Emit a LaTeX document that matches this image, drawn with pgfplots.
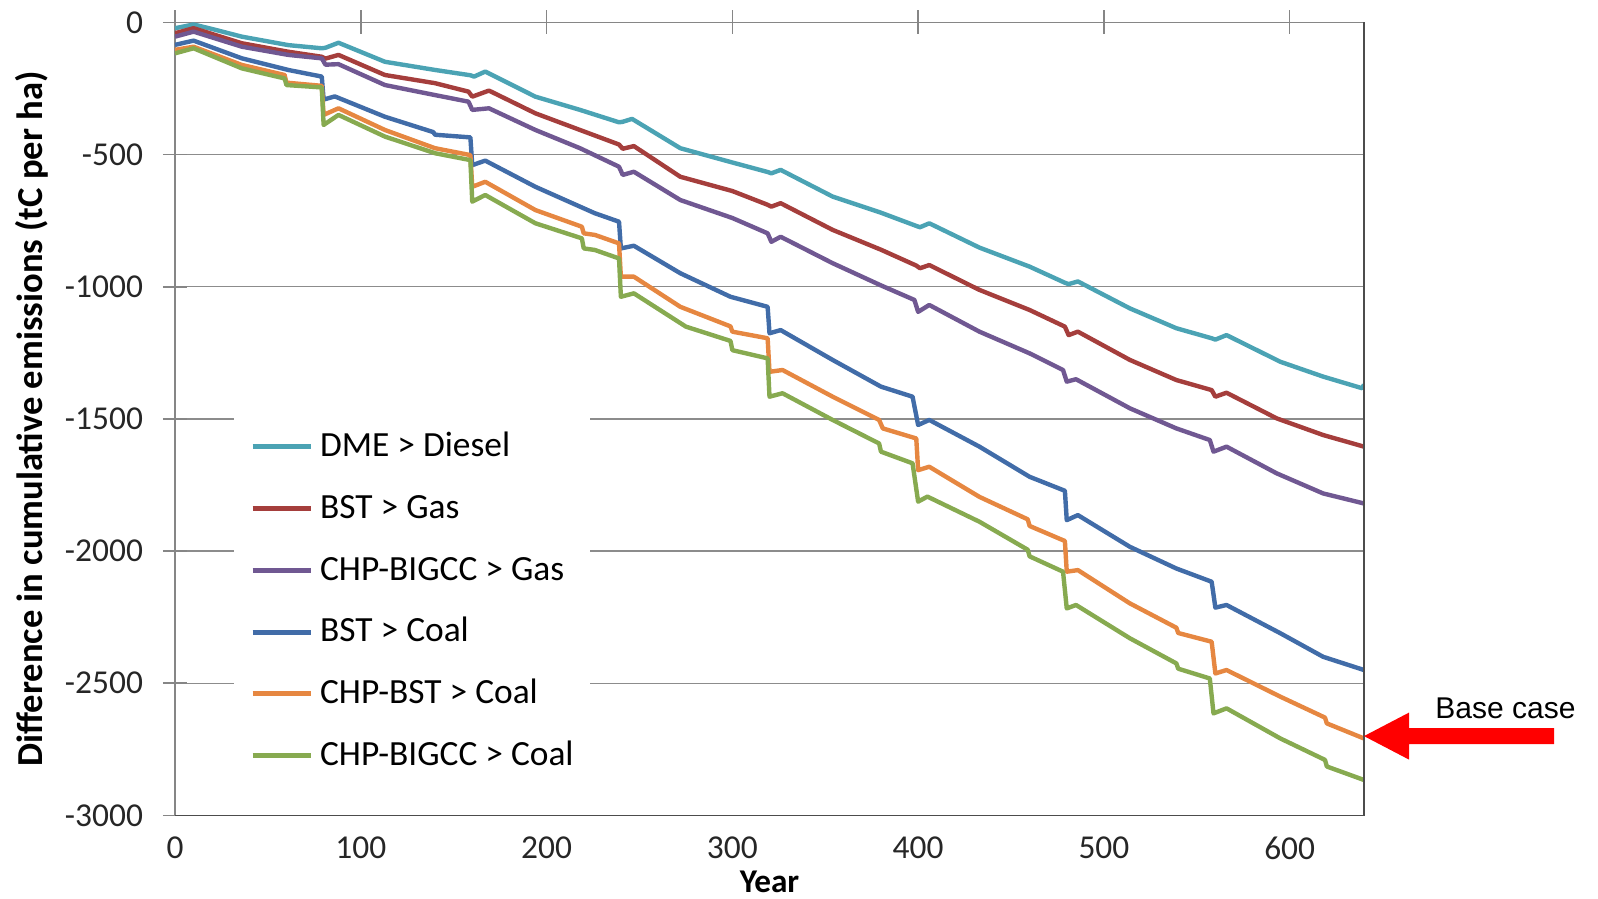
\documentclass[border=0pt]{standalone}
\usepackage{pgfplots}
\pgfplotsset{compat=1.18}
\usepackage{fontspec}
\setmainfont{Carlito}
\newfontfamily\arialfont{Liberation Sans}
\definecolor{cTeal}{RGB}{75,163,180}
\definecolor{cRed}{RGB}{165,62,60}
\definecolor{cPurple}{RGB}{112,88,146}
\definecolor{cBlue}{RGB}{65,108,168}
\definecolor{cOrange}{RGB}{230,135,65}
\definecolor{cGreen}{RGB}{135,170,80}
\definecolor{axgray}{RGB}{134,134,134}
\definecolor{gridgray}{RGB}{140,140,140}
\begin{document}
\begin{tikzpicture}
\begin{axis}[
  name=ax,
  at={(0,0)}, anchor=south west,
  scale only axis, width=594.5pt, height=396.5pt,
  xmin=0, xmax=640, ymin=-3000, ymax=0,
  xtick={0,100,...,600}, ytick={-3000,-2500,...,0},
  xtick pos=right, xticklabel pos=left,
  ytick pos=left,
  tick align=center,
  major tick length=12pt,
  tick style={draw=axgray, line width=0.8pt},
  axis line style={draw=axgray, line width=0.8pt},
  ymajorgrids, grid style={draw=gridgray, line width=0.7pt},
  /pgf/number format/assume math mode=true,
  /pgf/number format/1000 sep={},
  tick label style={font=\fontsize{16.7}{20}\selectfont, text=black!85},
  xticklabel style={yshift=-1pt},
  yticklabel style={xshift=-6.5pt},
  xlabel={Year},
  xlabel style={font=\bfseries\fontsize{16.6}{20}\selectfont, at={(rel axis cs:0.5,0)}, anchor=center, yshift=-33pt},
  ylabel={Difference in cumulative emissions (tC per ha)},
  ylabel style={font=\bfseries\fontsize{18.3}{20}\selectfont},
  ylabel shift=1.5pt,
  legend style={at={(0.0494,0.512)}, anchor=north west, draw=none, fill=white,
    inner xsep=8pt, inner ysep=12pt, row sep=17.9pt, column sep=3.5pt,
    font=\fontsize{17.7}{20}\selectfont,
    nodes={inner sep=0pt, text height=11.4pt, text depth=1.6pt}},
  legend cell align=left,
  legend image code/.code={\draw[#1, line width=2.5pt] (0pt,0pt) -- (29pt,0pt);},
  every axis plot/.append style={line width=2.2pt, line join=round, no markers},
]
\addplot[cTeal] coordinates {(0,-22)(10,-8)(20,-25)(36,-54)(61,-86)(79,-98)(81,-96)(88,-77)(113,-149)(140,-180)(159,-200)(161,-205)(167,-186)(194,-281)(218,-331)(239,-378)(241,-376)(246,-365)(272,-476)(300,-530)(319,-566)(321,-571)(326,-558)(354,-659)(380,-720)(399,-770)(401,-775)(406,-760)(433,-852)(460,-924)(479,-985)(481,-990)(486,-980)(514,-1082)(539,-1157)(558,-1195)(560,-1200)(566,-1183)(595,-1284)(618,-1340)(639,-1384)(640,-1370)};
\addlegendentry{DME > Diesel}
\addplot[cRed] coordinates {(0,-41)(10,-22)(36,-79)(61,-111)(79,-130)(81,-137)(88,-123)(113,-199)(140,-230)(158,-262)(160,-281)(169,-258)(194,-344)(218,-407)(239,-462)(241,-478)(247,-468)(272,-584)(300,-638)(319,-690)(321,-697)(326,-684)(354,-785)(380,-860)(399,-920)(401,-930)(406,-918)(433,-1012)(460,-1088)(479,-1151)(481,-1183)(486,-1170)(514,-1277)(539,-1353)(558,-1391)(560,-1416)(566,-1401)(593,-1498)(618,-1561)(640,-1605)};
\addlegendentry{BST > Gas}
\addplot[cPurple] coordinates {(0,-54)(10,-35)(36,-92)(61,-123)(79,-136)(81,-160)(88,-158)(113,-237)(140,-275)(158,-300)(160,-331)(169,-325)(194,-407)(218,-476)(239,-546)(241,-577)(247,-565)(272,-672)(300,-740)(319,-798)(321,-830)(326,-811)(354,-911)(380,-995)(398,-1050)(400,-1095)(406,-1069)(433,-1170)(460,-1252)(478,-1315)(480,-1359)(485,-1350)(514,-1460)(539,-1536)(557,-1580)(559,-1624)(566,-1605)(593,-1706)(618,-1782)(640,-1820)};
\addlegendentry{CHP-BIGCC > Gas}
\addplot[cBlue] coordinates {(0,-85)(10,-69)(36,-136)(61,-180)(79,-205)(80,-292)(86,-280)(113,-357)(139,-415)(140,-425)(159,-435)(160,-540)(167,-523)(194,-622)(226,-722)(239,-754)(240,-855)(247,-845)(272,-949)(299,-1038)(319,-1076)(320,-1176)(326,-1164)(354,-1277)(380,-1378)(397,-1416)(400,-1523)(406,-1504)(433,-1605)(460,-1719)(479,-1772)(480,-1883)(486,-1864)(514,-1984)(539,-2066)(558,-2116)(560,-2214)(566,-2204)(595,-2311)(618,-2400)(640,-2450)};
\addlegendentry{BST > Coal}
\addplot[cOrange] coordinates {(0,-104)(10,-92)(36,-161)(59,-199)(60,-228)(79,-240)(80,-350)(88,-325)(113,-407)(140,-476)(159,-502)(160,-622)(167,-603)(194,-710)(219,-773)(220,-798)(226,-804)(239,-836)(240,-962)(247,-962)(272,-1076)(299,-1150)(300,-1170)(319,-1195)(320,-1322)(327,-1315)(354,-1416)(379,-1504)(381,-1536)(399,-1574)(400,-1694)(406,-1681)(433,-1795)(459,-1880)(460,-1905)(479,-1962)(480,-2078)(486,-2072)(514,-2198)(539,-2290)(540,-2310)(558,-2343)(560,-2463)(566,-2450)(595,-2551)(619,-2630)(620,-2652)(640,-2709)};
\addlegendentry{CHP-BST > Coal}
\addplot[cGreen] coordinates {(0,-117)(10,-98)(36,-174)(59,-212)(60,-237)(79,-246)(80,-388)(88,-350)(113,-432)(140,-495)(159,-521)(160,-678)(167,-653)(194,-760)(219,-817)(220,-855)(226,-861)(239,-893)(240,-1038)(247,-1025)(275,-1151)(299,-1205)(300,-1240)(319,-1271)(320,-1416)(327,-1403)(354,-1504)(379,-1593)(380,-1624)(397,-1668)(400,-1813)(405,-1794)(433,-1889)(459,-1995)(460,-2020)(478,-2078)(480,-2217)(485,-2204)(514,-2330)(539,-2425)(540,-2445)(557,-2482)(559,-2614)(566,-2595)(595,-2709)(619,-2790)(620,-2815)(640,-2866)};
\addlegendentry{CHP-BIGCC > Coal}
\coordinate (tip) at (axis cs:640,-2700);
\end{axis}
\draw[draw=black!70, line width=0.9pt] (ax.south west) -- (ax.south east) -- (ax.north east);
\fill[red] (tip) -- ++(22.5pt,11.75pt) -- ++(0pt,-7.75pt) -- ++(72.5pt,0pt) -- ++(0pt,-8pt) -- ++(-72.5pt,0pt) -- ++(0pt,-7.75pt) -- cycle;
\node[anchor=base west, inner sep=0pt, font=\arialfont\fontsize{15}{18}\selectfont] at ([shift={(35.5pt,9pt)}]tip) {Base case};
\pgfresetboundingbox
\path[use as bounding box] (-87.5pt,-41.35pt) rectangle (711.5pt,407.7pt);
\end{tikzpicture}
\end{document}
